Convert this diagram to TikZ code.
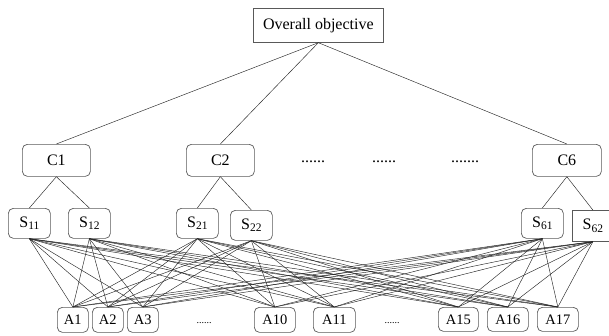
\documentclass[tikz,border=0pt]{standalone}
\usepackage{fontspec}
\setmainfont{Liberation Serif}
\begin{document}
\begin{tikzpicture}[x=1pt,y=-1pt,
  bx/.style={draw=black!65, line width=0.7pt, inner sep=0pt, anchor=north west},
  rbx/.style={bx, rounded corners=5pt},
  big/.style={font=\fontsize{16}{16}\selectfont},
  small/.style={font=\fontsize{14.5}{14.5}\selectfont},
  conn/.style={draw=black!85, line width=0.45pt},
  dots/.style={font=\fontsize{16}{16}\selectfont, inner sep=0pt},
  sdots/.style={font=\fontsize{10}{10}\selectfont, inner sep=0pt}]
\useasboundingbox (0,0) rectangle (609,335);
\newcommand{\Sl}[1]{S\raisebox{-0.3ex}{\fontsize{11.5}{11.5}\selectfont #1}}
% top
\node[bx, big, minimum width=130pt, minimum height=34pt] (top) at (253,8) {Overall objective};
% criteria
\node[rbx, big, minimum width=68pt, minimum height=32pt] (c1) at (22,144) {C1};
\node[rbx, big, minimum width=68pt, minimum height=32pt] (c2) at (186,144) {C2};
\node[rbx, big, minimum width=69pt, minimum height=32pt] (c6) at (532,144) {C6};
\node[dots] (d1) at (313,162) {......};
\node[dots] (d2) at (384,162) {......};
\node[dots] (d3) at (465,162) {.......};
% sub-criteria
\node[rbx, big, minimum width=42pt, minimum height=30pt] (s11) at (8,208) {\Sl{11}};
\node[rbx, big, minimum width=42pt, minimum height=30pt] (s12) at (68,208) {\Sl{12}};
\node[rbx, big, minimum width=42pt, minimum height=30pt] (s21) at (176,208) {\Sl{21}};
\node[rbx, big, minimum width=42pt, minimum height=30pt] (s22) at (230,210) {\Sl{22}};
\node[rbx, big, minimum width=42pt, minimum height=30pt] (s61) at (521,208) {\Sl{61}};
\node[bx, big, minimum width=41pt, minimum height=31pt] (s62) at (572,210) {\Sl{62}};
% alternatives
\node[rbx, small, minimum width=31pt, minimum height=25pt] (a1) at (57,307) {A1};
\node[rbx, small, minimum width=31pt, minimum height=25pt] (a2) at (92,307) {A2};
\node[rbx, small, minimum width=31pt, minimum height=25pt] (a3) at (127,307) {A3};
\node[rbx, small, minimum width=41pt, minimum height=25pt] (a10) at (254,307) {A10};
\node[rbx, small, minimum width=42pt, minimum height=25pt] (a11) at (313,307) {A11};
\node[rbx, small, minimum width=40pt, minimum height=24pt] (a15) at (438,307) {A15};
\node[rbx, small, minimum width=41pt, minimum height=24pt] (a16) at (487,307) {A16};
\node[rbx, small, minimum width=41pt, minimum height=24pt] (a17) at (537,307) {A17};
\node[sdots] (e1) at (204,323) {......};
\node[sdots] (e2) at (392,323) {......};
% connectors top -> criteria
\foreach \c in {c1,c2,c6} \draw[conn] (top.south) -- (\c.north);
\draw[conn] (c1.south) -- (s11.north);
\draw[conn] (c1.south) -- (s12.north);
\draw[conn] (c2.south) -- (s21.north);
\draw[conn] (c2.south) -- (s22.north);
\draw[conn] (c6.south) -- (s61.north);
\draw[conn] (c6.south) -- (s62.north);
% sub-criteria -> alternatives
\foreach \s in {s11,s12,s21,s22,s61,s62}
  \foreach \a in {a1,a2,a3,a10,a11,a15,a16,a17}
    \draw[conn] (\s.south) -- (\a.north);
\end{tikzpicture}
\end{document}
